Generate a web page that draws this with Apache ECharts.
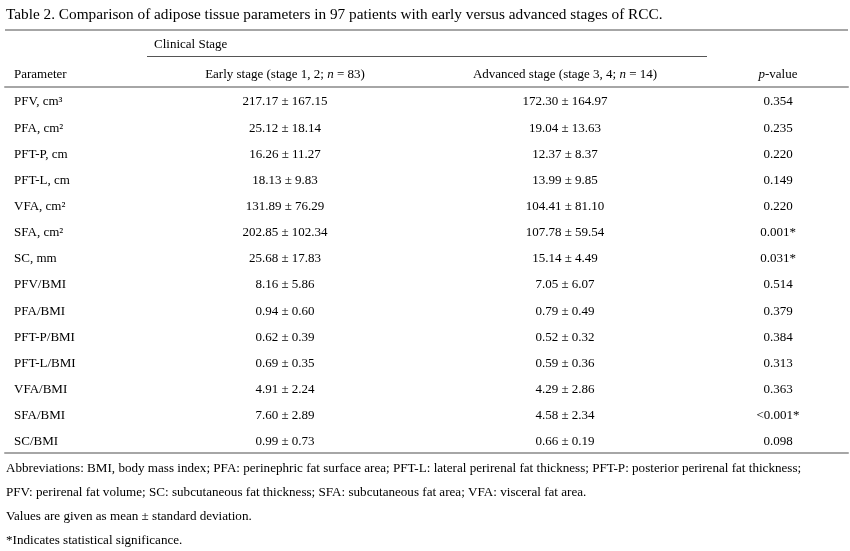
<!DOCTYPE html>
<html>
<head>
<meta charset="utf-8">
<script src="https://cdn.jsdelivr.net/npm/echarts@6/dist/echarts.min.js"></script>
<style>
  html, body { margin: 0; padding: 0; background: #fff; }
  #main { width: 850px; height: 551px; }
</style>
</head>
<body>
<div id="main"></div>
<script>
// table data
var parameters = ['PFV, cm³', 'PFA, cm²', 'PFT-P, cm', 'PFT-L, cm', 'VFA, cm²', 'SFA, cm²', 'SC, mm',
  'PFV/BMI', 'PFA/BMI', 'PFT-P/BMI', 'PFT-L/BMI', 'VFA/BMI', 'SFA/BMI', 'SC/BMI'];
var earlyMean = [217.17, 25.12, 16.26, 18.13, 131.89, 202.85, 25.68, 8.16, 0.94, 0.62, 0.69, 4.91, 7.60, 0.99];
var earlySd = [167.15, 18.14, 11.27, 9.83, 76.29, 102.34, 17.83, 5.86, 0.60, 0.39, 0.35, 2.24, 2.89, 0.73];
var advancedMean = [172.30, 19.04, 12.37, 13.99, 104.41, 107.78, 15.14, 7.05, 0.79, 0.52, 0.59, 4.29, 4.58, 0.66];
var advancedSd = [164.97, 13.63, 8.37, 9.85, 81.10, 59.54, 4.49, 6.07, 0.49, 0.32, 0.36, 2.86, 2.34, 0.19];
var pValues = ['0.354', '0.235', '0.220', '0.149', '0.220', '0.001*', '0.031*',
  '0.514', '0.379', '0.384', '0.313', '0.363', '<0.001*', '0.098'];

var titleText = 'Table 2. Comparison of adipose tissue parameters in 97 patients with early versus advanced stages of RCC.';
var headers = ['Parameter', 'Early stage (stage 1, 2; {i|n} = 83)', 'Advanced stage (stage 3, 4; {i|n} = 14)', '{i|p}-value'];
var notes = [
  'Abbreviations: BMI, body mass index; PFA: perinephric fat surface area; PFT-L: lateral perirenal fat thickness; PFT-P: posterior perirenal fat thickness;',
  'PFV: perirenal fat volume; SC: subcutaneous fat thickness; SFA: subcutaneous fat area; VFA: visceral fat area.',
  'Values are given as mean ± standard deviation.',
  '*Indicates statistical significance.'
];

// layout
var FONT = '"Liberation Serif", "Times New Roman", serif';
var INK = '#000';
var colX = [14, 285, 565, 778];
var rule = '#a6a6a6';

function pm(m, s) { return m.toFixed(2) + ' ± ' + s.toFixed(2); }

var columns = [
  { align: 'left', text: function (i) { return parameters[i]; } },
  { align: 'center', text: function (i) { return pm(earlyMean[i], earlySd[i]); } },
  { align: 'center', text: function (i) { return pm(advancedMean[i], advancedSd[i]); } },
  { align: 'center', text: function (i) { return pValues[i]; } }
];

var chart = echarts.init(document.getElementById('main'));

var series = columns.map(function (col, c) {
  return {
    type: 'scatter',
    symbolSize: 0,
    itemStyle: { opacity: 0 },
    silent: true,
    data: parameters.map(function (p) { return [colX[c], p]; }),
    label: {
      show: true,
      position: 'inside',
      offset: [0, 2],
      opacity: 1,
      align: col.align,
      color: INK,
      textBorderWidth: 0,
      fontFamily: FONT,
      fontSize: 13,
      formatter: function (d) { return col.text(d.dataIndex); }
    }
  };
});

var graphics = [
  { type: 'text', left: 6, top: 7, style: { text: titleText, font: '15.3px ' + FONT, fill: INK } },
  { type: 'line', shape: { x1: 5, y1: 30, x2: 848, y2: 30 }, style: { stroke: rule, lineWidth: 2 } },
  { type: 'text', left: 154, top: 38, style: { text: 'Clinical Stage', font: '13px ' + FONT, fill: INK } },
  { type: 'line', shape: { x1: 147, y1: 56.5, x2: 707, y2: 56.5 }, style: { stroke: '#555', lineWidth: 1 } }
];
headers.forEach(function (h, c) {
  graphics.push({
    type: 'text',
    x: colX[c], y: 75,
    style: {
      text: h, font: '13px ' + FONT, fill: INK,
      align: columns[c].align, verticalAlign: 'middle',
      rich: { i: { fontStyle: 'italic', fontFamily: FONT, fontSize: 13, fill: INK } }
    }
  });
});
notes.forEach(function (n, k) {
  graphics.push({
    type: 'text',
    x: 6, y: 469 + k * 24,
    style: { text: n, font: '13.1px ' + FONT, fill: INK, verticalAlign: 'middle' }
  });
});

chart.setOption({
  animation: false,
  grid: { left: 5, right: 2, top: 87, bottom: 98 },
  xAxis: [
    { type: 'value', min: 5, max: 848, position: 'bottom',
      axisLine: { show: true, lineStyle: { color: rule, width: 2 } },
      axisTick: { show: false }, axisLabel: { show: false }, splitLine: { show: false } },
    { type: 'value', min: 5, max: 848, position: 'top',
      axisLine: { show: true, lineStyle: { color: rule, width: 2 } },
      axisTick: { show: false }, axisLabel: { show: false }, splitLine: { show: false } }
  ],
  yAxis: { type: 'category', data: parameters, inverse: true, show: false },
  series: series,
  graphic: graphics
});
</script>
</body>
</html>
